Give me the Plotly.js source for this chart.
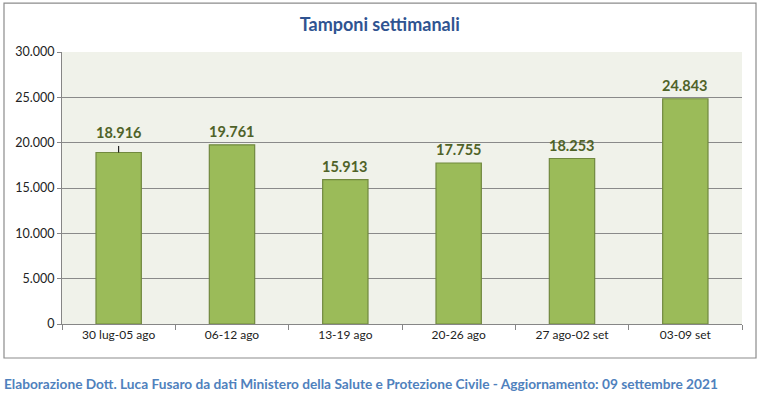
<!DOCTYPE html>
<html>
<head>
<meta charset="utf-8">
<script src="https://cdn.plot.ly/plotly-3.0.1.min.js"></script>
<style>html,body{margin:0;padding:0;background:#fff;}#chart{width:764px;height:394px;}</style>
</head>
<body>
<div id="chart"></div>
<script>
var categories = ["30 lug-05 ago", "06-12 ago", "13-19 ago", "20-26 ago", "27 ago-02 set", "03-09 set"];
var tamponi = [18916, 19761, 15913, 17755, 18253, 24843];
var leaderUp = [720, 0, 0, 0, 0, 0];
var yTicks = [0, 5000, 10000, 15000, 20000, 25000, 30000];

var font = "Lato, 'Open Sans', sans-serif";

function fmt(v) {
  return String(v).replace(/\B(?=(\d{3})+(?!\d))/g, ".");
}

var trace = {
  type: "bar",
  x: categories,
  y: tamponi,
  marker: {color: "#9BBB59", line: {color: "#71893F", width: 1.2}},
  error_y: {type: "data", symmetric: false, array: leaderUp, arrayminus: [0,0,0,0,0,0], color: "#000", thickness: 1, width: 0},
  hoverinfo: "none"
};

var labelAnns = categories.map(function (c, i) {
  return {
    xref: "x", yref: "y", x: c, y: tamponi[i] + leaderUp[i],
    xanchor: "center", yanchor: "bottom", yshift: 3,
    showarrow: false,
    text: "<b>" + fmt(tamponi[i]) + "</b>",
    font: {family: font, size: 14.5, color: "#4F6228"}
  };
});

var layout = {
  width: 764, height: 394,
  margin: {l: 62, r: 22, t: 52, b: 70},
  separators: ",.",
  paper_bgcolor: "#fff",
  plot_bgcolor: "#F0F2EA",
  bargap: 0.6,
  showlegend: false,
  font: {family: font, size: 12, color: "#222"},
  title: {text: "<b>Tamponi settimanali</b>", x: 0.497, xref: "container", xanchor: "center", y: 0.937, yanchor: "middle",
    font: {family: font, size: 18, color: "#2F5491"}},
  xaxis: {
    type: "category",
    showgrid: false,
    showline: true, linecolor: "#868686", linewidth: 1,
    ticks: "outside", tickson: "boundaries", ticklen: 5, tickcolor: "#868686",
    tickfont: {family: font, size: 12, color: "#222"},
    fixedrange: true
  },
  yaxis: {
    range: [0, 30000],
    tickvals: yTicks,
    tickformat: ",d",
    showgrid: true, gridcolor: "#8A8A8A", gridwidth: 1,
    showline: true, linecolor: "#868686", linewidth: 1,
    ticks: "outside", ticklen: 4, tickcolor: "#868686",
    tickfont: {family: font, size: 12.5, color: "#222"},
    zeroline: false,
    fixedrange: true
  },
  shapes: [{
    type: "rect", xref: "paper", yref: "paper",
    x0: -0.0853, x1: 1.0206, y0: -0.125, y1: 1.18,
    line: {color: "#8C8C8C", width: 1.2}, fillcolor: "rgba(0,0,0,0)", layer: "below"
  }],
  annotations: labelAnns.concat([{
    xref: "paper", yref: "paper", x: -0.0882, y: -0.218, xanchor: "left", yanchor: "middle",
    showarrow: false, align: "left",
    text: "<b>Elaborazione Dott. Luca Fusaro da dati Ministero della Salute e Protezione Civile - Aggiornamento: 09 settembre 2021</b>",
    font: {family: font, size: 13.7, color: "#4F81BD"}
  }])
};

Plotly.newPlot("chart", [trace], layout, {displayModeBar: false, staticPlot: true});
</script>
</body>
</html>
